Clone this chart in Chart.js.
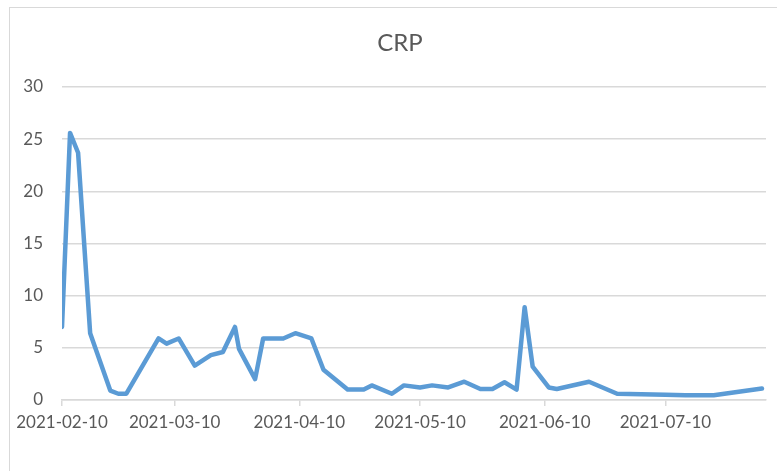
<!DOCTYPE html>
<html>
<head>
<meta charset="utf-8">
<script src="https://cdn.jsdelivr.net/npm/chart.js@4"></script>
<style>
  html, body { margin: 0; padding: 0; overflow: hidden; background: #fff; width: 777px; height: 471px; }
  #frame { position: absolute; left: 9px; top: 7px; width: 800px; height: 500px; border: 1px solid #d9d9d9; }
  /* the chart is wider than the window, as in the cropped reference */
  #chart { position: absolute; left: 9px; top: 0; }
</style>
</head>
<body>
<div id="frame"></div>
<canvas id="chart" width="782" height="471"></canvas>
<script>
// CRP readings by date
var DATES = ['2021-02-10', '2021-02-12', '2021-02-14', '2021-02-17', '2021-02-22', '2021-02-24', '2021-02-26',
	'2021-03-06', '2021-03-08', '2021-03-11', '2021-03-15', '2021-03-19', '2021-03-22', '2021-03-25', '2021-03-26',
	'2021-03-30', '2021-04-01', '2021-04-06', '2021-04-09', '2021-04-13', '2021-04-16', '2021-04-22', '2021-04-26',
	'2021-04-28', '2021-05-03', '2021-05-06', '2021-05-10', '2021-05-13', '2021-05-17', '2021-05-21', '2021-05-25',
	'2021-05-28', '2021-05-31', '2021-06-03', '2021-06-05', '2021-06-07', '2021-06-11', '2021-06-13', '2021-06-21',
	'2021-06-28', '2021-07-04', '2021-07-10', '2021-07-15', '2021-07-22', '2021-08-03'];
var CRP = [7.0, 25.6, 23.7, 6.4, 0.9, 0.6, 0.6,
	5.9, 5.4, 5.9, 3.3, 4.3, 4.6, 7.0, 4.9,
	2.0, 5.9, 5.9, 6.4, 5.9, 2.9, 1.0, 1.0,
	1.4, 0.6, 1.4, 1.2, 1.4, 1.2, 1.75, 1.05,
	1.05, 1.7, 1.0, 8.9, 3.2, 1.2, 1.05, 1.75,
	0.6, 0.55, 0.5, 0.45, 0.45, 1.1];
var TICK_DATES = ['2021-02-10', '2021-03-10', '2021-04-10', '2021-05-10', '2021-06-10', '2021-07-10'];
var X_END = '2021-08-04';
var Y_MIN = 0, Y_MAX = 30, Y_STEP = 5;

// days since the first reading
function dayOf(s) {
	return (Date.parse(s) - Date.parse(DATES[0])) / 86400000;
}

var points = DATES.map(function(d, i) {
	return { x: dayOf(d), y: CRP[i] };
});
var tickDays = TICK_DATES.map(dayOf);

var textColor = '#595959';
var gridColor = '#d9d9d9';

new Chart(document.getElementById('chart').getContext('2d'), {
	type: 'line',
	data: {
		datasets: [{
			label: 'CRP',
			data: points,
			borderColor: '#5b9bd5',
			borderWidth: 4.5,
			borderJoinStyle: 'round',
			borderCapStyle: 'round',
			pointRadius: 0,
			tension: 0,
			fill: false
		}]
	},
	options: {
		responsive: false,
		animation: false,
		layout: { padding: { left: 0, right: 0, top: 0, bottom: 31 } },
		plugins: {
			legend: { display: false },
			tooltip: { enabled: false },
			title: {
				display: true,
				text: 'CRP',
				color: textColor,
				font: { family: 'Lato', size: 24, weight: 'normal' },
				padding: { top: 28.6, bottom: 29.6 }
			}
		},
		scales: {
			x: {
				type: 'linear',
				min: 0,
				max: dayOf(X_END),
				afterBuildTicks: function(scale) {
					scale.ticks = tickDays.map(function(v) { return { value: v }; });
				},
				afterFit: function(scale) { scale.height = 40; },
				grid: { drawOnChartArea: false, drawTicks: true, tickLength: 6, color: gridColor, lineWidth: 1.5 },
				border: { display: true, color: gridColor, width: 1.5 },
				ticks: {
					autoSkip: false,
					maxRotation: 0,
					padding: 6,
					color: textColor,
					font: { family: 'Lato', size: 17 },
					callback: function(value) {
						var i = tickDays.indexOf(value);
						return i >= 0 ? TICK_DATES[i] : '';
					}
				}
			},
			y: {
				min: Y_MIN,
				max: Y_MAX,
				afterFit: function(scale) { scale.width = 53; },
				grid: { drawTicks: false, color: gridColor, lineWidth: 1.5 },
				border: { display: false },
				ticks: {
					stepSize: Y_STEP,
					padding: 19,
					color: textColor,
					font: { family: 'Lato', size: 17 }
				}
			},
			// empty strip on the right so the plot stops short of the frame
			pad: {
				position: 'right',
				display: true,
				afterFit: function(scale) { scale.width = 25; },
				grid: { display: false },
				border: { display: false },
				ticks: { display: false }
			}
		}
	}
});
</script>
</body>
</html>
